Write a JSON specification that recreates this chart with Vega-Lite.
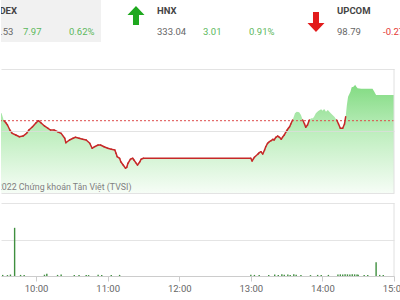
{
  "$schema": "https://vega.github.io/schema/vega-lite/v6.json",
  "padding": 0,
  "background": "white",
  "bounds": "flush",
  "spacing": 27,
  "config": {"view": {"stroke": null}, "font": "Roboto"},
  "datasets": {
    "board": [
      {"index": "VNINDEX", "price": "1,283.53", "change": "7.97", "percent": "0.62%", "trend": "up"},
      {"index": "HNX", "price": "333.04", "change": "3.01", "percent": "0.91%", "trend": "up"},
      {"index": "UPCOM", "price": "98.79", "change": "-0.27", "percent": "-0.27%", "trend": "down"}
    ],
    "price": [
      {"t": "2022-06-10T09:15:00", "v": 330.80},
      {"t": "2022-06-10T09:22:00", "v": 330.76},
      {"t": "2022-06-10T09:28:00", "v": 330.90},
      {"t": "2022-06-10T09:31:00", "v": 331.02},
      {"t": "2022-06-10T09:33:00", "v": 330.03},
      {"t": "2022-06-10T09:34:30", "v": 329.80},
      {"t": "2022-06-10T09:36:00", "v": 329.47},
      {"t": "2022-06-10T09:38:00", "v": 328.83},
      {"t": "2022-06-10T09:40:00", "v": 328.40},
      {"t": "2022-06-10T09:43:00", "v": 328.18},
      {"t": "2022-06-10T09:46:00", "v": 327.96},
      {"t": "2022-06-10T09:49:00", "v": 328.05},
      {"t": "2022-06-10T09:52:00", "v": 328.40},
      {"t": "2022-06-10T09:54:00", "v": 328.83},
      {"t": "2022-06-10T09:57:00", "v": 329.25},
      {"t": "2022-06-10T10:00:00", "v": 329.77},
      {"t": "2022-06-10T10:02:00", "v": 330.03},
      {"t": "2022-06-10T10:04:00", "v": 329.77},
      {"t": "2022-06-10T10:07:00", "v": 329.35},
      {"t": "2022-06-10T10:10:00", "v": 329.05},
      {"t": "2022-06-10T10:12:00", "v": 328.83},
      {"t": "2022-06-10T10:15:00", "v": 328.83},
      {"t": "2022-06-10T10:18:00", "v": 328.61},
      {"t": "2022-06-10T10:21:00", "v": 328.40},
      {"t": "2022-06-10T10:24:00", "v": 327.76},
      {"t": "2022-06-10T10:25:00", "v": 327.19},
      {"t": "2022-06-10T10:28:00", "v": 327.54},
      {"t": "2022-06-10T10:31:00", "v": 327.76},
      {"t": "2022-06-10T10:33:00", "v": 327.89},
      {"t": "2022-06-10T10:36:00", "v": 327.76},
      {"t": "2022-06-10T10:39:00", "v": 327.63},
      {"t": "2022-06-10T10:42:00", "v": 327.54},
      {"t": "2022-06-10T10:45:00", "v": 327.11},
      {"t": "2022-06-10T10:47:00", "v": 326.47},
      {"t": "2022-06-10T10:49:00", "v": 326.67},
      {"t": "2022-06-10T10:52:00", "v": 326.89},
      {"t": "2022-06-10T10:54:00", "v": 326.89},
      {"t": "2022-06-10T10:57:00", "v": 326.67},
      {"t": "2022-06-10T11:00:00", "v": 326.47},
      {"t": "2022-06-10T11:03:00", "v": 326.34},
      {"t": "2022-06-10T11:06:00", "v": 326.25},
      {"t": "2022-06-10T11:07:00", "v": 325.82},
      {"t": "2022-06-10T11:08:00", "v": 325.38},
      {"t": "2022-06-10T11:10:00", "v": 325.18},
      {"t": "2022-06-10T11:11:00", "v": 324.74},
      {"t": "2022-06-10T11:13:00", "v": 324.31},
      {"t": "2022-06-10T11:15:00", "v": 323.89},
      {"t": "2022-06-10T11:16:00", "v": 324.02},
      {"t": "2022-06-10T11:17:00", "v": 324.53},
      {"t": "2022-06-10T11:19:00", "v": 325.05},
      {"t": "2022-06-10T11:21:00", "v": 325.18},
      {"t": "2022-06-10T11:22:00", "v": 324.96},
      {"t": "2022-06-10T11:24:00", "v": 324.53},
      {"t": "2022-06-10T11:25:00", "v": 324.31},
      {"t": "2022-06-10T11:27:00", "v": 324.74},
      {"t": "2022-06-10T11:28:00", "v": 325.05},
      {"t": "2022-06-10T11:30:00", "v": 325.18},
      {"t": "2022-06-10T13:00:00", "v": 325.18},
      {"t": "2022-06-10T13:01:00", "v": 324.83},
      {"t": "2022-06-10T13:03:00", "v": 325.31},
      {"t": "2022-06-10T13:06:00", "v": 325.73},
      {"t": "2022-06-10T13:07:00", "v": 325.90},
      {"t": "2022-06-10T13:08:30", "v": 326.03},
      {"t": "2022-06-10T13:10:00", "v": 325.73},
      {"t": "2022-06-10T13:11:30", "v": 326.25},
      {"t": "2022-06-10T13:12:30", "v": 326.67},
      {"t": "2022-06-10T13:14:00", "v": 327.11},
      {"t": "2022-06-10T13:15:30", "v": 327.32},
      {"t": "2022-06-10T13:17:00", "v": 327.45},
      {"t": "2022-06-10T13:18:30", "v": 327.63},
      {"t": "2022-06-10T13:19:30", "v": 327.54},
      {"t": "2022-06-10T13:21:00", "v": 327.89},
      {"t": "2022-06-10T13:22:30", "v": 328.05},
      {"t": "2022-06-10T13:24:00", "v": 327.89},
      {"t": "2022-06-10T13:25:30", "v": 327.63},
      {"t": "2022-06-10T13:26:30", "v": 327.89},
      {"t": "2022-06-10T13:28:00", "v": 328.18},
      {"t": "2022-06-10T13:29:30", "v": 328.61},
      {"t": "2022-06-10T13:30:30", "v": 328.83},
      {"t": "2022-06-10T13:31:30", "v": 329.05},
      {"t": "2022-06-10T13:32:30", "v": 329.25},
      {"t": "2022-06-10T13:33:30", "v": 329.60},
      {"t": "2022-06-10T13:35:00", "v": 330.12},
      {"t": "2022-06-10T13:36:00", "v": 330.55},
      {"t": "2022-06-10T13:37:00", "v": 330.98},
      {"t": "2022-06-10T13:38:30", "v": 331.19},
      {"t": "2022-06-10T13:40:30", "v": 331.11},
      {"t": "2022-06-10T13:42:00", "v": 330.76},
      {"t": "2022-06-10T13:43:30", "v": 330.12},
      {"t": "2022-06-10T13:45:00", "v": 329.60},
      {"t": "2022-06-10T13:46:00", "v": 329.18},
      {"t": "2022-06-10T13:47:30", "v": 329.47},
      {"t": "2022-06-10T13:49:00", "v": 330.12},
      {"t": "2022-06-10T13:50:30", "v": 330.34},
      {"t": "2022-06-10T13:52:00", "v": 330.34},
      {"t": "2022-06-10T13:53:00", "v": 330.55},
      {"t": "2022-06-10T13:54:30", "v": 330.98},
      {"t": "2022-06-10T13:56:30", "v": 331.28},
      {"t": "2022-06-10T13:59:00", "v": 331.50},
      {"t": "2022-06-10T14:00:00", "v": 331.32},
      {"t": "2022-06-10T14:01:30", "v": 331.54},
      {"t": "2022-06-10T14:03:00", "v": 331.19},
      {"t": "2022-06-10T14:04:30", "v": 331.41},
      {"t": "2022-06-10T14:07:00", "v": 330.98},
      {"t": "2022-06-10T14:10:00", "v": 330.55},
      {"t": "2022-06-10T14:12:00", "v": 330.12},
      {"t": "2022-06-10T14:13:30", "v": 329.60},
      {"t": "2022-06-10T14:15:00", "v": 329.05},
      {"t": "2022-06-10T14:17:00", "v": 329.05},
      {"t": "2022-06-10T14:18:30", "v": 329.60},
      {"t": "2022-06-10T14:19:30", "v": 330.55},
      {"t": "2022-06-10T14:20:30", "v": 332.05},
      {"t": "2022-06-10T14:21:30", "v": 333.13},
      {"t": "2022-06-10T14:23:30", "v": 333.77},
      {"t": "2022-06-10T14:24:30", "v": 334.34},
      {"t": "2022-06-10T14:26:00", "v": 334.42},
      {"t": "2022-06-10T14:27:30", "v": 334.67},
      {"t": "2022-06-10T14:28:00", "v": 334.51},
      {"t": "2022-06-10T14:29:30", "v": 334.21},
      {"t": "2022-06-10T14:32:30", "v": 334.16},
      {"t": "2022-06-10T14:38:00", "v": 334.16},
      {"t": "2022-06-10T14:42:00", "v": 334.16},
      {"t": "2022-06-10T14:43:30", "v": 333.77},
      {"t": "2022-06-10T14:45:00", "v": 333.35},
      {"t": "2022-06-10T15:00:00", "v": 333.35}
    ],
    "volume": [
      {"t": "2022-06-10T09:32:00", "vol": 30000},
      {"t": "2022-06-10T09:36:00", "vol": 25000},
      {"t": "2022-06-10T09:38:30", "vol": 40000},
      {"t": "2022-06-10T09:42:00", "vol": 1320000},
      {"t": "2022-06-10T09:47:00", "vol": 30000},
      {"t": "2022-06-10T09:50:00", "vol": 25000},
      {"t": "2022-06-10T10:07:00", "vol": 35000},
      {"t": "2022-06-10T10:09:00", "vol": 60000},
      {"t": "2022-06-10T10:18:00", "vol": 30000},
      {"t": "2022-06-10T10:21:00", "vol": 40000},
      {"t": "2022-06-10T10:32:00", "vol": 25000},
      {"t": "2022-06-10T10:36:00", "vol": 30000},
      {"t": "2022-06-10T10:42:00", "vol": 30000},
      {"t": "2022-06-10T10:44:00", "vol": 25000},
      {"t": "2022-06-10T10:52:00", "vol": 35000},
      {"t": "2022-06-10T10:55:00", "vol": 30000},
      {"t": "2022-06-10T11:03:00", "vol": 25000},
      {"t": "2022-06-10T11:10:00", "vol": 30000},
      {"t": "2022-06-10T13:00:00", "vol": 35000},
      {"t": "2022-06-10T13:03:00", "vol": 30000},
      {"t": "2022-06-10T13:07:00", "vol": 25000},
      {"t": "2022-06-10T13:15:00", "vol": 30000},
      {"t": "2022-06-10T13:20:00", "vol": 40000},
      {"t": "2022-06-10T13:23:00", "vol": 30000},
      {"t": "2022-06-10T13:26:00", "vol": 45000},
      {"t": "2022-06-10T13:28:00", "vol": 35000},
      {"t": "2022-06-10T13:31:00", "vol": 40000},
      {"t": "2022-06-10T13:33:00", "vol": 30000},
      {"t": "2022-06-10T13:36:00", "vol": 45000},
      {"t": "2022-06-10T13:38:00", "vol": 35000},
      {"t": "2022-06-10T13:42:00", "vol": 30000},
      {"t": "2022-06-10T13:50:00", "vol": 25000},
      {"t": "2022-06-10T13:56:00", "vol": 30000},
      {"t": "2022-06-10T13:59:00", "vol": 25000},
      {"t": "2022-06-10T14:05:00", "vol": 30000},
      {"t": "2022-06-10T14:13:00", "vol": 40000},
      {"t": "2022-06-10T14:15:00", "vol": 45000},
      {"t": "2022-06-10T14:17:00", "vol": 40000},
      {"t": "2022-06-10T14:19:00", "vol": 50000},
      {"t": "2022-06-10T14:21:00", "vol": 45000},
      {"t": "2022-06-10T14:23:00", "vol": 40000},
      {"t": "2022-06-10T14:25:00", "vol": 50000},
      {"t": "2022-06-10T14:27:00", "vol": 45000},
      {"t": "2022-06-10T14:29:00", "vol": 40000},
      {"t": "2022-06-10T14:30:00", "vol": 35000},
      {"t": "2022-06-10T14:35:00", "vol": 30000},
      {"t": "2022-06-10T14:38:00", "vol": 25000},
      {"t": "2022-06-10T14:45:00", "vol": 380000},
      {"t": "2022-06-10T14:48:00", "vol": 30000},
      {"t": "2022-06-10T14:51:00", "vol": 25000}
    ]
  },
  "vconcat": [
    {
      "width": 400,
      "height": 42,
      "data": {"name": "board"},
      "layer": [
        {
          "transform": [{"filter": "datum.index === 'VNINDEX'"}],
          "mark": {"type": "rect", "color": "#f1f1f1", "clip": true},
          "encoding": {
            "x": {"field": "index", "type": "nominal", "axis": null,
                  "scale": {"type": "band", "domain": ["VNINDEX", "HNX", "UPCOM"], "range": [-80, 460], "paddingInner": 0, "paddingOuter": 0}}
          }
        },
        {
          "transform": [{"filter": "datum.trend === 'up'"}],
          "mark": {"type": "point", "filled": true, "clip": true, "size": 400, "opacity": 1, "color": "#1ea81e",
                   "shape": "M0,-1.5L0.85,-0.6L0.3,-0.6L0.3,0.4L-0.3,0.4L-0.3,-0.6L-0.85,-0.6Z"},
          "encoding": {
            "x": {"field": "index", "type": "nominal", "axis": null, "bandPosition": 0.1944},
            "y": {"datum": "arrow", "type": "nominal", "axis": null,
                  "scale": {"type": "point", "domain": ["name", "arrow", "figures"], "padding": 1.333}}
          }
        },
        {
          "transform": [{"filter": "datum.trend === 'down'"}],
          "mark": {"type": "point", "filled": true, "clip": true, "size": 400, "opacity": 1, "color": "#e21b1b",
                   "shape": "M0,1.1L0.85,0.2L0.3,0.2L0.3,-0.9L-0.3,-0.9L-0.3,0.2L-0.85,0.2Z"},
          "encoding": {
            "x": {"field": "index", "type": "nominal", "axis": null, "bandPosition": 0.1944},
            "y": {"datum": "arrow", "type": "nominal", "axis": null}
          }
        },
        {
          "mark": {"type": "text", "align": "left", "baseline": "middle", "clip": true, "fontSize": 9.5, "fontWeight": "bold", "color": "#444"},
          "encoding": {
            "x": {"field": "index", "type": "nominal", "axis": null, "bandPosition": 0.3111},
            "y": {"datum": "name", "type": "nominal", "axis": null},
            "text": {"field": "index"}
          }
        },
        {
          "mark": {"type": "text", "align": "left", "baseline": "middle", "clip": true, "fontSize": 9.5, "color": "#666"},
          "encoding": {
            "x": {"field": "index", "type": "nominal", "axis": null, "bandPosition": 0.3111},
            "y": {"datum": "figures", "type": "nominal", "axis": null},
            "text": {"field": "price"}
          }
        },
        {
          "mark": {"type": "text", "align": "left", "baseline": "middle", "clip": true, "fontSize": 9.5},
          "encoding": {
            "x": {"field": "index", "type": "nominal", "axis": null, "bandPosition": 0.5667},
            "y": {"datum": "figures", "type": "nominal", "axis": null},
            "text": {"field": "change"},
            "color": {"condition": {"test": "datum.trend === 'up'", "value": "#5cb85c"}, "value": "#e53935"}
          }
        },
        {
          "mark": {"type": "text", "align": "left", "baseline": "middle", "clip": true, "fontSize": 9.5},
          "encoding": {
            "x": {"field": "index", "type": "nominal", "axis": null, "bandPosition": 0.8222},
            "y": {"datum": "figures", "type": "nominal", "axis": null},
            "text": {"field": "percent"},
            "color": {"condition": {"test": "datum.trend === 'up'", "value": "#5cb85c"}, "value": "#e53935"}
          }
        }
      ]
    },
    {
      "bounds": "flush",
      "spacing": 10,
      "vconcat": [
        {
          "width": 393,
          "height": 124,
          "layer": [
            {
              "data": {"name": "price", "format": {"parse": {"t": "date"}}},
              "mark": {"type": "area", "clip": true, "interpolate": "linear",
                       "color": {"gradient": "linear", "x1": 0, "y1": 0, "x2": 0, "y2": 1,
                                 "stops": [{"offset": 0, "color": "#82db82"}, {"offset": 0.45, "color": "#bfeebf"}, {"offset": 1, "color": "#f6fdf6"}]}},
              "encoding": {
                "x": {"field": "t", "type": "temporal", "axis": null,
                      "scale": {"domain": [{"year": 2022, "month": 6, "date": 10, "hours": 9, "minutes": 30, "seconds": 35}, {"year": 2022, "month": 6, "date": 10, "hours": 15}]}},
                "y": {"field": "v", "type": "quantitative",
                      "scale": {"domain": [320.7, 336.7], "zero": false, "nice": false},
                      "axis": {"values": [320.7, 324.7, 328.7, 332.7, 336.7], "grid": true, "gridColor": "#dcdcdc", "gridOpacity": 0.8, "zindex": 1, "labels": false, "ticks": false, "domain": false, "title": null}},
                "y2": {"datum": 320.7}
              }
            },
            {
              "data": {"values": [{}]},
              "mark": {"type": "rule", "color": "#dd4b4b", "strokeDash": [2, 2], "strokeWidth": 1},
              "encoding": {"y": {"datum": 330.03, "type": "quantitative"}}
            },
            {
              "data": {"name": "price", "format": {"parse": {"t": "date"}}},
              "transform": [
                {"window": [{"op": "lead", "field": "t", "as": "t2"}, {"op": "lead", "field": "v", "as": "v2"}], "sort": [{"field": "t"}]},
                {"filter": "datum.t2 != null && (datum.v < 330.03 || datum.v2 < 330.03)"}
              ],
              "mark": {"type": "rule", "color": "#c62828", "strokeWidth": 1.5, "strokeCap": "round", "clip": true},
              "encoding": {
                "x": {"field": "t", "type": "temporal"},
                "x2": {"field": "t2"},
                "y": {"field": "v", "type": "quantitative"},
                "y2": {"field": "v2"}
              }
            },
            {
              "data": {"values": [{}]},
              "mark": {"type": "text", "align": "left", "baseline": "alphabetic", "dy": -3, "fontSize": 8.8, "color": "#808080", "clip": true},
              "encoding": {
                "x": {"datum": {"year": 2022, "month": 6, "date": 10, "hours": 9, "minutes": 19, "seconds": 30}, "type": "temporal"},
                "y": {"datum": 320.7, "type": "quantitative"},
                "text": {"value": "© 2022 Chứng khoán Tân Việt (TVSI)"}
              }
            },
            {
              "data": {"values": [{}]},
              "mark": {"type": "rule", "color": "#e0e0e0", "strokeWidth": 1},
              "encoding": {"x": {"datum": {"year": 2022, "month": 6, "date": 10, "hours": 15}, "type": "temporal"}}
            }
          ]
        },
        {
          "width": 393,
          "height": 73,
          "layer": [
            {
              "data": {"name": "volume", "format": {"parse": {"t": "date"}}},
              "mark": {"type": "rule", "color": "#3f8f3f", "strokeWidth": 1.4, "clip": true},
              "encoding": {
                "x": {"field": "t", "type": "temporal",
                      "scale": {"domain": [{"year": 2022, "month": 6, "date": 10, "hours": 9, "minutes": 30, "seconds": 35}, {"year": 2022, "month": 6, "date": 10, "hours": 15}]},
                      "axis": {"values": [
                        {"year": 2022, "month": 6, "date": 10, "hours": 10},
                        {"year": 2022, "month": 6, "date": 10, "hours": 11},
                        {"year": 2022, "month": 6, "date": 10, "hours": 12},
                        {"year": 2022, "month": 6, "date": 10, "hours": 13},
                        {"year": 2022, "month": 6, "date": 10, "hours": 14},
                        {"year": 2022, "month": 6, "date": 10, "hours": 15}],
                        "format": "%H:%M", "labelColor": "#666", "labelFontSize": 9.5, "labelPadding": 2,
                        "tickColor": "#cccccc", "tickSize": 5, "domainColor": "#cccccc", "grid": false, "title": null,
                        "labelFlush": false, "labelOverlap": false}},
                "y": {"field": "vol", "type": "quantitative",
                      "scale": {"domain": [0, 2000000], "nice": false},
                      "axis": {"values": [0, 1000000, 2000000], "grid": true, "gridColor": "#e4e4e4", "labels": false, "ticks": false, "domain": false, "title": null}},
                "y2": {"datum": 0}
              }
            },
            {
              "data": {"values": [{}]},
              "mark": {"type": "rule", "color": "#e0e0e0", "strokeWidth": 1},
              "encoding": {"x": {"datum": {"year": 2022, "month": 6, "date": 10, "hours": 15}, "type": "temporal"}}
            }
          ]
        }
      ]
    }
  ]
}
